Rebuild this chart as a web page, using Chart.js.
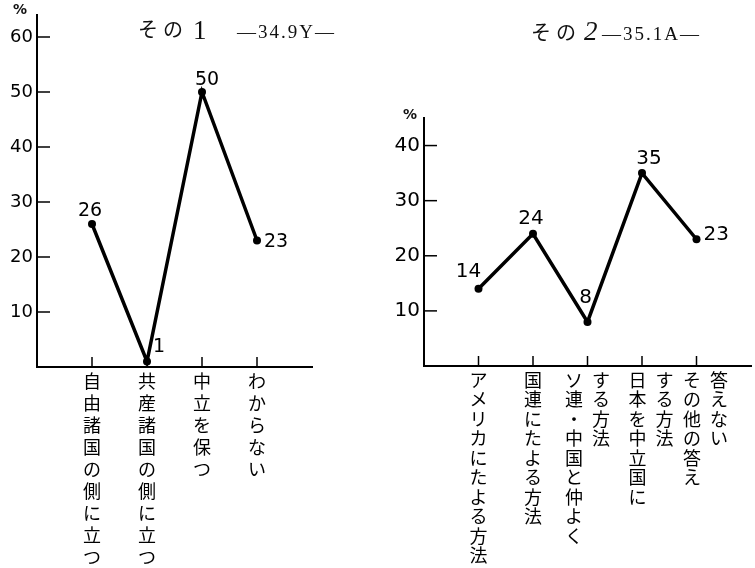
<!DOCTYPE html>
<html lang="ja">
<head>
<meta charset="utf-8">
<script src="https://cdn.jsdelivr.net/npm/chart.js@4.4.1/dist/chart.umd.min.js"></script>
<style>
body { margin: 0; background: #fff; width: 755px; height: 568px; overflow: hidden; position: relative; color: #111; }
.box { position: absolute; top: 0; height: 568px; }
#box1 { left: 0; width: 380px; }
#box2 { left: 380px; width: 375px; }
.t { position: absolute; white-space: nowrap; line-height: 1; }
.ja { font-family: "Noto Sans CJK JP", sans-serif; font-size: 20px; letter-spacing: 5px; }
.no { font-family: "Liberation Serif", serif; font-size: 27px; }
.yr { font-family: "Liberation Serif", serif; font-size: 19px; letter-spacing: 2px; }
.pct { font-family: "DejaVu Sans", sans-serif; font-size: 14px; font-weight: bold; }
</style>
</head>
<body>
<div class="box" id="box1"><canvas id="chart1"></canvas></div>
<div class="box" id="box2"><canvas id="chart2"></canvas></div>

<div class="t ja" style="left:138px;top:19px">その</div>
<div class="t no" style="left:193px;top:17px">1</div>
<div class="t yr" style="left:237px;top:22px">—34.9Y—</div>
<div class="t ja" style="left:531px;top:22px">その</div>
<div class="t no" style="left:584px;top:18px;font-style:italic">2</div>
<div class="t yr" style="left:602px;top:24px">—35.1A—</div>
<div class="t pct" style="left:13px;top:2px">%</div>
<div class="t pct" style="left:403px;top:107px">%</div>

<script>
// その1
const cats1 = [['自由諸国の側に立つ'], ['共産諸国の側に立つ'], ['中立を保つ'], ['わからない']];
const vals1 = [26, 1, 50, 23];
const yTicks1 = [10, 20, 30, 40, 50, 60];

// その2
const cats2 = [['アメリカにたよる方法'], ['国連にたよる方法'], ['ソ連・中国と仲よく', 'する方法'], ['日本を中立国に', 'する方法'], ['その他の答え', '答えない']];
const vals2 = [14, 24, 8, 35, 23];
const yTicks2 = [10, 20, 30, 40];

// 縦書きラベル: 1文字ずつ行に分ける
function tate(cols, lead) {
    const chars = cols.map(c => Array.from(c));
    const n = Math.max(...chars.map(c => c.length));
    const lines = [];
    for (let i = 0; i < n; i++) {
        let s = lead ? '\u3000' : '';
        s += chars.map(c => c[i] || '\u3000').join('\u2002');
        lines.push(s);
    }
    return lines;
}

// 目盛りと数値ラベル
const marks = {
    id: 'marks',
    afterDraw(chart) {
        const o = chart.options.plugins.marks;
        const { ctx, scales: { x, y } } = chart;
        ctx.save();
        ctx.strokeStyle = '#000';
        ctx.lineWidth = 1.5;
        y.ticks.forEach(t => {
            const py = y.getPixelForValue(t.value);
            ctx.beginPath();
            ctx.moveTo(x.left, py);
            ctx.lineTo(x.left + 13, py);
            ctx.stroke();
        });
        x.ticks.forEach(t => {
            const px = x.getPixelForValue(t.value);
            ctx.beginPath();
            ctx.moveTo(px, y.bottom);
            ctx.lineTo(px, y.bottom - 10);
            ctx.stroke();
        });
        const meta = chart.getDatasetMeta(0);
        const data = chart.data.datasets[0].data;
        ctx.fillStyle = '#000';
        ctx.font = o.size + 'px "DejaVu Sans"';
        ctx.textBaseline = 'middle';
        meta.data.forEach((pt, i) => {
            const [dx, dy, align] = o.pos[i];
            ctx.textAlign = align;
            ctx.fillText(data[i].y, pt.x + dx, pt.y + dy);
        });
        ctx.restore();
    }
};

function makeChart(id, cats, vals, yTicks, opt) {
    const lines = cats.map((c, i) => tate(c, opt.lead[i]));
    return new Chart(document.getElementById(id), {
        type: 'line',
        data: {
            datasets: [{
                data: vals.map((v, i) => ({ x: i, y: v })),
                borderColor: '#000',
                borderWidth: 3.5,
                pointRadius: 4,
                pointBackgroundColor: '#000',
                pointBorderWidth: 0,
                tension: 0
            }]
        },
        options: {
            responsive: true,
            maintainAspectRatio: false,
            animation: false,
            layout: { padding: { top: opt.top, right: opt.right, left: 0, bottom: 0 } },
            plugins: {
                legend: { display: false },
                tooltip: { enabled: false },
                marks: { pos: opt.pos, size: opt.labelSize }
            },
            scales: {
                x: {
                    type: 'linear',
                    min: -1,
                    max: opt.xMax,
                    afterBuildTicks: s => { s.ticks = cats.map((c, i) => ({ value: i })); },
                    afterFit: s => { s.height = opt.xH; },
                    grid: { display: false, drawTicks: false },
                    border: { display: true, color: '#000', width: 2 },
                    ticks: {
                        autoSkip: false, maxRotation: 0, minRotation: 0,
                        padding: opt.xPad, color: '#000',
                        font: { family: '"Noto Sans CJK JP"', size: 18, lineHeight: opt.lh + 'px' },
                        callback: v => lines[v]
                    }
                },
                y: {
                    min: 0,
                    max: opt.yMax,
                    afterBuildTicks: s => { s.ticks = yTicks.map(v => ({ value: v })); },
                    afterFit: s => { s.width = opt.yW; },
                    grid: { display: false, drawTicks: false },
                    border: { display: true, color: '#000', width: 2 },
                    ticks: { padding: 4, color: '#000', font: { family: '"DejaVu Sans"', size: opt.yFont } }
                }
            }
        },
        plugins: [marks]
    });
}

makeChart('chart1', cats1, vals1, yTicks1, {
    lead: [false, false, false, false],
    pos: [[-2, -13, 'center'], [12, -14, 'center'], [5, -12, 'center'], [7, 2, 'left']],
    labelSize: 19, top: 15, right: 68, xMax: 4, xH: 201, xPad: 3, lh: 22,
    yMax: 64, yW: 37, yFont: 18
});

makeChart('chart2', cats2, vals2, yTicks2, {
    lead: [false, false, false, true, true],
    pos: [[-10, -17, 'center'], [-2, -15, 'center'], [-2, -24, 'center'], [7, -14, 'center'], [7, -4, 'left']],
    labelSize: 20, top: 118, right: 0, xMax: 5, xH: 202, xPad: 4, lh: 19.5,
    yMax: 45, yW: 44, yFont: 20
});
</script>
</body>
</html>
